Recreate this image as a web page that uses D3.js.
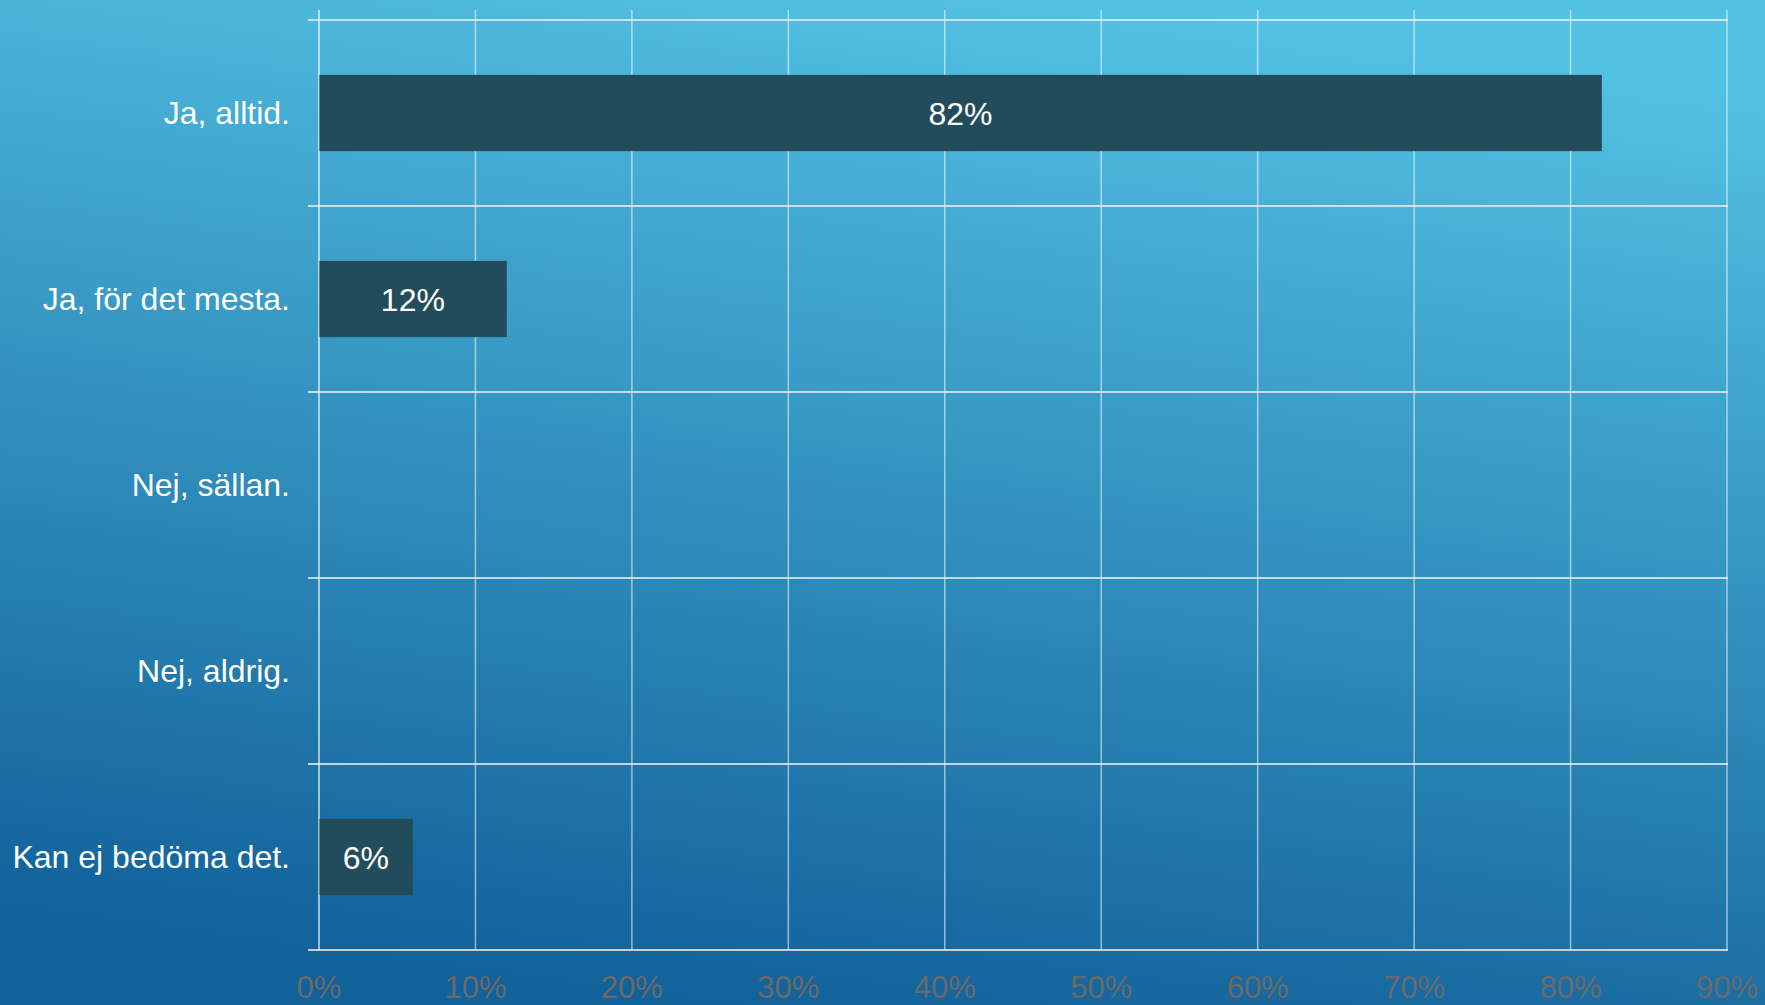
<!DOCTYPE html>
<html><head><meta charset="utf-8">
<script src="https://cdn.jsdelivr.net/npm/d3@7"></script>
<style>html,body{margin:0;padding:0;overflow:hidden;}svg{display:block;}</style>
</head><body>
<script>
const categories = ["Ja, alltid.", "Ja, för det mesta.", "Nej, sällan.", "Nej, aldrig.", "Kan ej bedöma det."];
const values = [82, 12, 0, 0, 6];
const tickValues = [0, 10, 20, 30, 40, 50, 60, 70, 80, 90];

const W = 1765, H = 1005;
const m = {left: 319, right: W - 1727, top: 20, bottom: H - 950};
const svg = d3.select("body").append("svg").attr("width", W).attr("height", H);

const defs = svg.append("defs");
const g1 = defs.append("linearGradient").attr("id", "bg")
  .attr("x1", "0.62").attr("y1", "0").attr("x2", "0.38").attr("y2", "1");
g1.append("stop").attr("offset", "0").attr("stop-color", "#53c1e3");
g1.append("stop").attr("offset", "1").attr("stop-color", "#11619a");
svg.append("rect").attr("width", W).attr("height", H).attr("fill", "url(#bg)");

const x = d3.scaleLinear().domain([0, 90]).range([m.left, W - m.right]);
const y = d3.scaleBand().domain(categories).range([m.top, H - m.bottom])
  .paddingInner(0.59).paddingOuter(0.295);
const step = y.step();

// vertical gridlines
svg.append("g").selectAll("line").data(tickValues).join("line")
  .attr("x1", d => x(d)).attr("x2", d => x(d))
  .attr("y1", m.top - 10).attr("y2", H - m.bottom)
  .attr("stroke", "#ffffff").attr("stroke-opacity", 0.55).attr("stroke-width", 1.5);

// horizontal category boundary lines
const bounds = d3.range(categories.length + 1).map(i => m.top + i * step);
svg.append("g").selectAll("line").data(bounds).join("line")
  .attr("x1", m.left - 11).attr("x2", x(90) + 1)
  .attr("y1", d => d).attr("y2", d => d)
  .attr("stroke", "#ececec").attr("stroke-opacity", 0.8).attr("stroke-width", 2);

// bars
const data = categories.map((c, i) => ({c, v: values[i]}));
svg.append("g").selectAll("rect").data(data.filter(d => d.v > 0)).join("rect")
  .attr("x", x(0)).attr("y", d => y(d.c))
  .attr("width", d => x(d.v) - x(0)).attr("height", y.bandwidth())
  .attr("fill", "#224c5b");

// axis line at 0 over bars
svg.append("line").attr("x1", x(0)).attr("x2", x(0))
  .attr("y1", m.top - 10).attr("y2", H - m.bottom)
  .attr("stroke", "#ffffff").attr("stroke-opacity", 0.4).attr("stroke-width", 1.5);

// value labels
svg.append("g").selectAll("text").data(data.filter(d => d.v > 0)).join("text")
  .attr("x", d => (x(0) + x(d.v)) / 2).attr("y", d => y(d.c) + y.bandwidth() / 2)
  .attr("dy", "0.36em").attr("text-anchor", "middle")
  .attr("font-family", "Liberation Sans, Arial, sans-serif").attr("font-size", 32)
  .attr("fill", "#ffffff").text(d => d.v + "%");

// category labels
svg.append("g").selectAll("text").data(categories).join("text")
  .attr("x", 290).attr("y", d => y(d) + y.bandwidth() / 2)
  .attr("dy", "0.35em").attr("text-anchor", "end")
  .attr("font-family", "Liberation Sans, Arial, sans-serif").attr("font-size", 32)
  .attr("fill", "#ffffff").text(d => d);

// x tick labels
svg.append("g").selectAll("text").data(tickValues).join("text")
  .attr("x", d => x(d)).attr("y", 998)
  .attr("text-anchor", "middle")
  .attr("font-family", "Liberation Sans, Arial, sans-serif").attr("font-size", 31)
  .attr("fill", "#6a6a6a").text(d => d + "%");
</script>
</body></html>
